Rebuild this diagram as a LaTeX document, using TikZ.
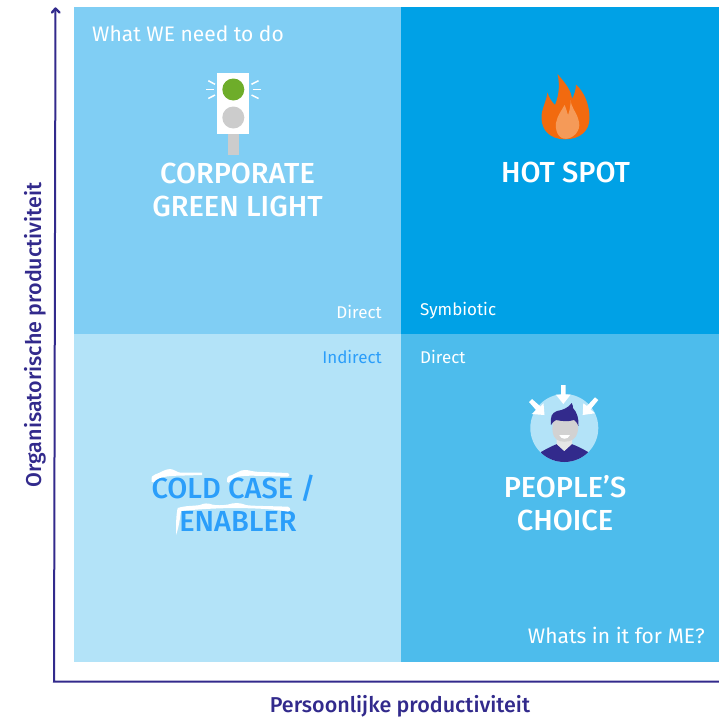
\documentclass[tikz,border=0pt]{standalone}
\usepackage{fontspec}
\setmainfont{Fira Sans}
\newfontfamily\medfont{Fira Sans Medium}
\definecolor{qtl}{HTML}{80CEF4}
\definecolor{qtr}{HTML}{00A1E6}
\definecolor{qbl}{HTML}{B3E3F8}
\definecolor{qbr}{HTML}{4DBCEC}
\definecolor{axiscol}{HTML}{322A8C}
\definecolor{coldtxt}{HTML}{2B9EFA}
\definecolor{flameA}{HTML}{F26A0F}
\definecolor{flameB}{HTML}{F59A58}
\definecolor{lampg}{HTML}{6EAD2A}
\definecolor{facegrey}{HTML}{D2D2D2}
\tikzset{
  title/.style={font=\fontsize{29}{33}\selectfont\medfont,align=center,text=white,inner sep=0pt},
  small/.style={font=\fontsize{17}{20}\selectfont,text=white,inner sep=0pt},
  corner/.style={font=\fontsize{21}{24}\selectfont,text=white,inner sep=0pt},
  axislabel/.style={font=\fontsize{21.5}{24}\selectfont\medfont,text=axiscol,inner sep=0pt},
  axisline/.style={draw=axiscol,line width=2pt},
  glint/.style={draw=white,line width=1.5pt},
  snow/.style={fill=white,draw=none}
}
\begin{document}
\begin{tikzpicture}[x=1pt,y=-1pt]
\useasboundingbox (0,0) rectangle (719,718);
\fill[qtl] (74,7) rectangle (401,334);
\fill[qtr] (401,7) rectangle (719,334);
\fill[qbl] (74,334) rectangle (401,662);
\fill[qbr] (401,334) rectangle (719,662);
% axes
\coordinate (top) at (55.5,8);
\coordinate (origin) at (54,681.5);
\coordinate (right) at (719,681.5);
\draw[axisline] (top) -- (origin) -- (right);
\draw[axisline,line width=2.4pt,line cap=round,line join=round] (52,12.5) -- (55.5,8.5) -- (59.5,12.5);
\node[axislabel,rotate=90] (ylab) at (35,335) {Organisatorische productiviteit};
\node[axislabel] (xlab) at (400,706) {Persoonlijke productiviteit};
% titles
\node[title] (glight) at (237.5,190) {CORPORATE\\GREEN LIGHT};
\node[title] (hot) at (565.5,172) {HOT SPOT};
\node[title,text=coldtxt] (cold) at (233.5,503) {COLD CASE /\\\hspace*{9pt}ENABLER};
\node[title] (people) at (565,503) {PEOPLE’S\\CHOICE};
% snow over the text
\fill[snow] (151.7,481.7) .. controls (151,477) and (152,475) .. (155,474.5) .. controls (160,473) and (165,469) .. (170,469) .. controls (174,469) and (177,472.7) .. (181,472.7) -- (202,472.7) -- (202,475) -- (177,475.7) .. controls (168,476) and (160,477) .. (156,480) .. controls (154,482) and (153,484) .. (151.7,481.7) -- cycle;
\fill[snow] (227,481.7) .. controls (226.5,477) and (228,476) .. (232,475) .. controls (237,473) and (240,470) .. (245,470) .. controls (250,470) and (252,471.7) .. (256,471.7) -- (288,473) .. controls (290,474) and (290,476) .. (288,476.7) -- (253,475.7) .. controls (245,475.7) and (238,476) .. (234,478) .. controls (231,480) and (228,485) .. (227,481.7) -- cycle;
\fill[snow] (176,535) .. controls (176,525) and (176,515) .. (177.7,508) .. controls (185,505.5) and (195,506) .. (200,505) .. controls (204,503) and (208,503) .. (212,504.5) .. controls (216,505.5) and (222,505.5) .. (228,504.5) .. controls (234,502.5) and (240,502.5) .. (246,505) .. controls (250,506) and (270,506) .. (288,506.7) .. controls (291,508) and (291,511) .. (288,511.7) .. controls (270,508.5) and (255,508.5) .. (240,508) .. controls (220,508) and (200,509) .. (181,511) .. controls (180,518) and (179,527) .. (176,535) -- cycle;
% corners
\node[corner,anchor=west] (we) at (92,33.5) {What WE need to do};
\node[corner,anchor=east] (me) at (705,635.5) {Whats in it for ME?};
\node[small,anchor=east] (d1) at (382,312) {Direct};
\node[small,anchor=west] (sy) at (420,311) {Symbiotic};
\node[small,anchor=east,text=coldtxt] (ind) at (382,357) {Indirect};
\node[small,anchor=west] (d2) at (420,357) {Direct};
% traffic light
\fill[black!20] (227.5,134) rectangle (238.5,155);
\fill[white] (217,73) rectangle (249,134);
\fill[black!20] (233.3,117.5) circle (11);
\fill[lampg] (233.3,89.5) circle (11);
\draw[glint] (214,89.5) -- (205.5,89.5);
\draw[glint] (215,84.3) -- (208.3,80.7);
\draw[glint] (215,95) -- (208.3,98.5);
\draw[glint] (252.5,89.5) -- (261,89.5);
\draw[glint] (251.5,84.3) -- (258.5,80.7);
\draw[glint] (251.5,95) -- (258.5,98.5);
% flame
\fill[flameA] (557.5,74) .. controls (566,84) and (571,90) .. (572,99) .. controls (574,95) and (576,90) .. (576,84.5) .. controls (584,92) and (589.5,104) .. (589.5,118) .. controls (589.5,131) and (580,139.3) .. (565,139.3) .. controls (550,139.3) and (541.5,130) .. (541.5,118) .. controls (541.5,108) and (546,103) .. (547.5,92.5) .. controls (549,98) and (552,102) .. (555,105) .. controls (559,95) and (560,85) .. (557.5,74) -- cycle;
\fill[flameB] (570.7,100) .. controls (571,108) and (577,112) .. (579,122) .. controls (581,131) and (573,138.5) .. (566,138.8) .. controls (558,139) and (555,130) .. (556,123) .. controls (557,116) and (562,110) .. (564.5,105) .. controls (566,108) and (567,112) .. (568,115) .. controls (570,110) and (570.5,105) .. (570.7,100) -- cycle;
% person
\fill[qbl] (564.3,428) circle (34);
\begin{scope}
\clip (564.3,428) circle (34);
\fill[axiscol] (541,452) .. controls (547,448.5) and (552,446) .. (557,444) -- (564.3,451) -- (571.5,444) .. controls (577,446) and (582,448.5) .. (588,452) -- (588,465) -- (541,465) -- cycle;
\end{scope}
\fill[white!90!black] (556.5,438) -- (572,438) -- (572,444) -- (564.3,451) -- (556.5,444) -- cycle;
\fill[facegrey] (553,420) -- (578,420) .. controls (578.5,430) and (578,436) .. (573,439.5) .. controls (569,442.5) and (560,442.5) .. (556.5,439.5) .. controls (552,436) and (552,430) .. (553,420) -- cycle;
\fill[white] (559.3,435) -- (570,435) .. controls (568,440) and (561,440) .. (559.3,435) -- cycle;
\fill[axiscol] (551,425) .. controls (550,416) and (552,413) .. (557,411) .. controls (563,410) and (568,408) .. (571.7,403) .. controls (573,405) and (573,407) .. (573,408) .. controls (577,412) and (579,419) .. (578.5,426) .. controls (577,423) and (576,421) .. (574,420) .. controls (568,422) and (561,421) .. (556,420) .. controls (554,421) and (552,423) .. (551,425) -- cycle;
% arrows
\fill[white] (561,385) -- (565.7,385) -- (565.7,394.5) -- (570.7,394.5) -- (563.3,404) -- (555.7,394.5) -- (561,394.5) -- cycle;
\fill[white] (529,402) -- (532,399) -- (540.5,406.5) -- (543.5,403.3) -- (544.5,415) -- (531.7,414) -- (536,410) -- cycle;
\fill[white] (598.3,400) -- (595,397.3) -- (587,406) -- (583.3,403.3) -- (582.7,415) -- (595,413.3) -- (590.5,409.5) -- cycle;
\end{tikzpicture}
\end{document}
